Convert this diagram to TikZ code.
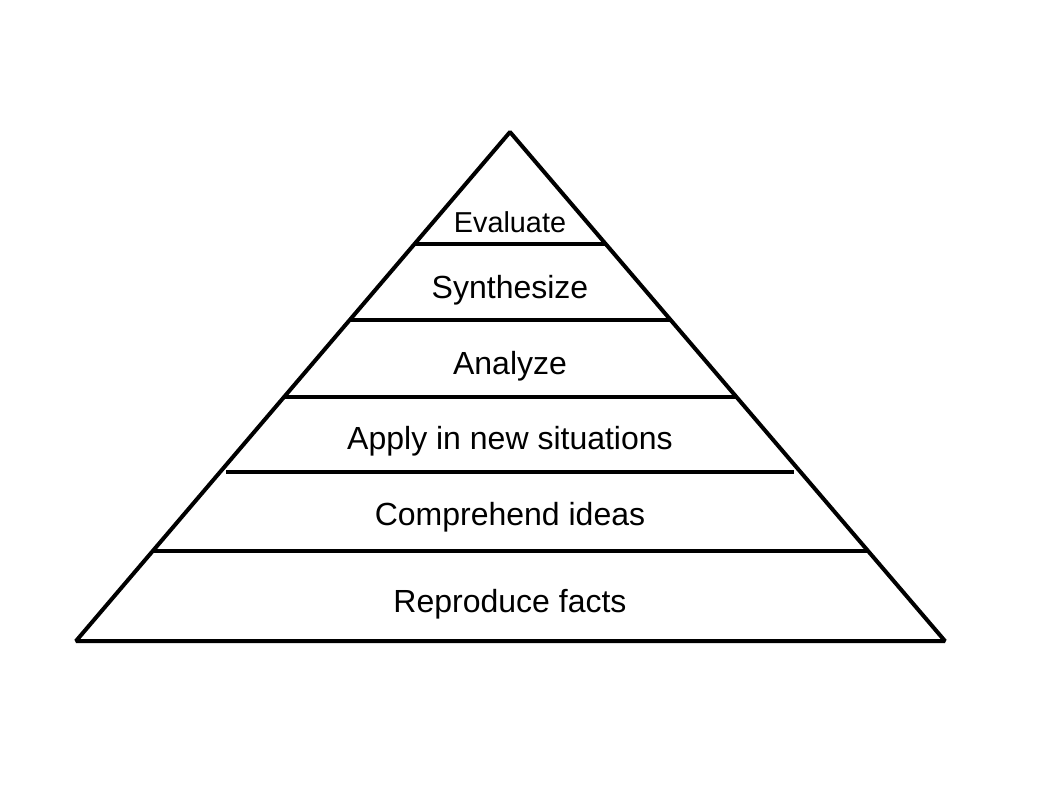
\documentclass[tikz,border=0pt]{standalone}
\usepackage{fontspec}
\setmainfont{Liberation Sans}
\usetikzlibrary{calc}
\tikzset{level/.style={font=\fontsize{24}{28}\selectfont, anchor=base, inner sep=0pt},
         toplevel/.style={level, font=\fontsize{21.6}{26}\selectfont}}

\begin{document}
\begin{tikzpicture}[x=0.75pt,y=-0.75pt,line width=3pt]
  \useasboundingbox (0,0) rectangle (1058,794);
  \coordinate (top) at (510,132);
  \coordinate (left) at (76,641);
  \coordinate (right) at (945,641);
  \draw[line join=bevel] (top) -- (left) -- (right) -- cycle;
  \coordinate (evalL) at ($(top)!0.221!(left)$);
  \coordinate (evalR) at ($(top)!0.221!(right)$);
  \coordinate (synL) at ($(top)!0.3703!(left)$);
  \coordinate (synR) at ($(top)!0.3703!(right)$);
  \coordinate (anaL) at ($(top)!0.5197!(left)$);
  \coordinate (anaR) at ($(top)!0.5197!(right)$);
  \coordinate (appL) at (226,472);
  \coordinate (appR) at (794,472);
  \coordinate (comL) at ($(top)!0.8232!(left)$);
  \coordinate (comR) at ($(top)!0.8232!(right)$);
  \draw (evalL) -- (evalR);
  \draw (synL) -- (synR);
  \draw (anaL) -- (anaR);
  \draw (appL) -- (appR);
  \draw (comL) -- (comR);
  \node[toplevel] (eval) at (510,232) {Evaluate};
  \node[level] (syn) at (510,298) {Synthesize};
  \node[level] (ana) at (510,374) {Analyze};
  \node[level] (app) at (510,449) {Apply in new situations};
  \node[level] (com) at (510,525) {Comprehend ideas};
  \node[level] (rep) at (510,612) {Reproduce facts};
\end{tikzpicture}
\end{document}
